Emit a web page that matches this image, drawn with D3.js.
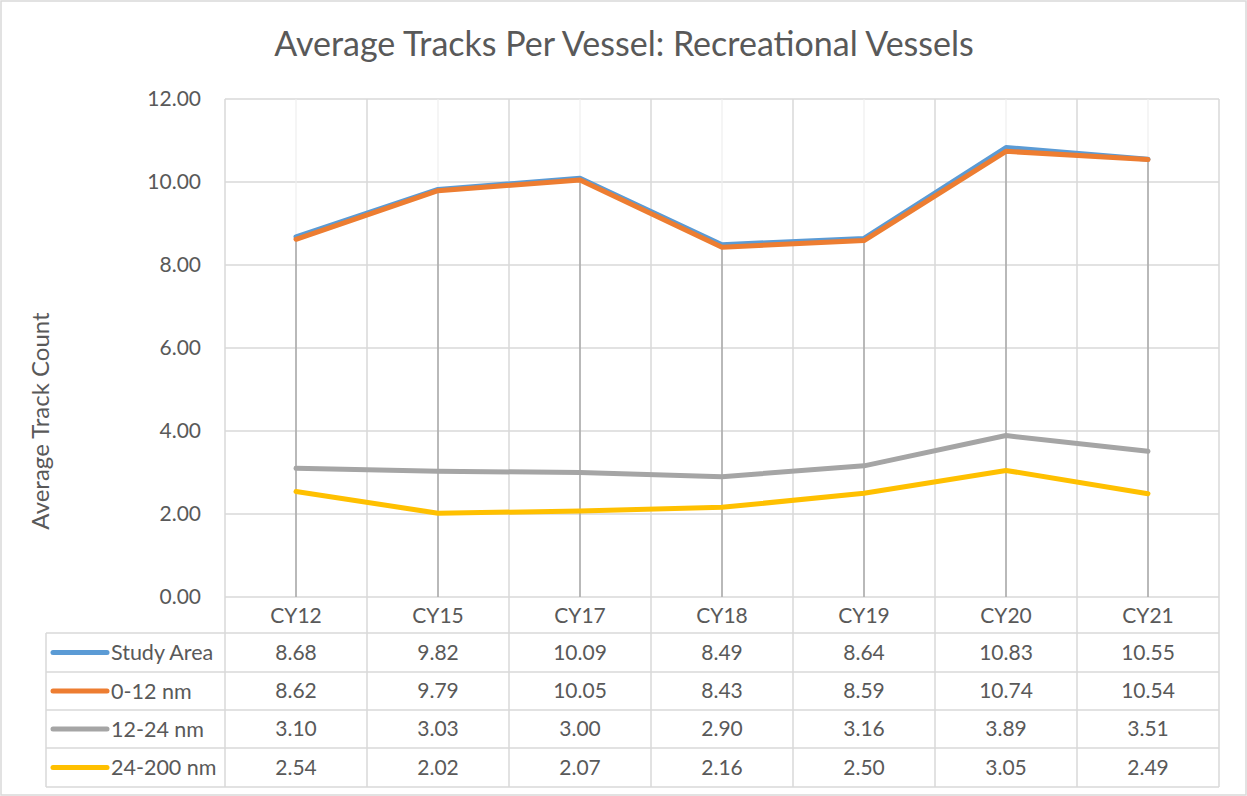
<!DOCTYPE html>
<html><head><meta charset="utf-8">
<script src="https://cdn.jsdelivr.net/npm/d3@7"></script>
<style>body{margin:0;background:#fff}svg{display:block}text{font-family:Lato,"Open Sans",sans-serif;fill:#595959}</style>
</head><body>
<script>
const categories = ["CY12","CY15","CY17","CY18","CY19","CY20","CY21"];
const seriesNames = ["Study Area","0-12 nm","12-24 nm","24-200 nm"];
const studyArea = [8.68,9.82,10.09,8.49,8.64,10.83,10.55];
const nm0_12 = [8.62,9.79,10.05,8.43,8.59,10.74,10.54];
const nm12_24 = [3.10,3.03,3.00,2.90,3.16,3.89,3.51];
const nm24_200 = [2.54,2.02,2.07,2.16,2.50,3.05,2.49];
const yTicks = [0,2,4,6,8,10,12];
const colors = ["#5b9bd5","#ed7d31","#a5a5a5","#ffc000"];
const allSeries = [studyArea,nm0_12,nm12_24,nm24_200];

const W=1247,H=796;
const svg=d3.select("body").append("svg").attr("width",W).attr("height",H);
svg.append("rect").attr("x",1).attr("y",1).attr("width",W-2).attr("height",H-2).attr("fill","#fff").attr("stroke","#d9d9d9").attr("stroke-width",1.5);

const L=225,R=1219,T=99,B=597;
const x=d3.scaleBand().domain(categories).range([L,R]);
const y=d3.scaleLinear().domain([0,12]).range([B,T]);
const grid="#d9d9d9";

svg.append("g").selectAll("line").data(yTicks).join("line")
 .attr("x1",L).attr("x2",R).attr("y1",d=>y(d)).attr("y2",d=>y(d))
 .attr("stroke",grid).attr("stroke-width",1.5);
const bounds=categories.map(c=>x(c)).concat([x(categories[categories.length-1])+x.bandwidth()]);
svg.append("g").selectAll("line").data(bounds).join("line")
 .attr("x1",d=>d).attr("x2",d=>d).attr("y1",T).attr("y2",787)
 .attr("stroke",grid).attr("stroke-width",1.5);
svg.append("g").selectAll("line").data(categories).join("line")
 .attr("x1",d=>x(d)+x.bandwidth()/2).attr("x2",d=>x(d)+x.bandwidth()/2).attr("y1",T).attr("y2",B)
 .attr("stroke","#efefef").attr("stroke-width",1.2);
svg.append("g").selectAll("line").data(categories).join("line")
 .attr("x1",d=>x(d)+x.bandwidth()/2).attr("x2",d=>x(d)+x.bandwidth()/2)
 .attr("y1",(d,i)=>y(d3.max(allSeries,s=>s[i]))).attr("y2",B)
 .attr("stroke","#a5a5a5").attr("stroke-width",1.5);

svg.append("g").selectAll("text").data(yTicks).join("text")
 .attr("x",201).attr("y",d=>y(d)).attr("dy","0.35em").attr("text-anchor","end")
 .attr("font-size",21).text(d=>d3.format(".2f")(d));

svg.append("text").attr("transform","translate(41,421) rotate(-90)").attr("text-anchor","middle")
 .attr("dy","0.35em").attr("font-size",24).text("Average Track Count");

svg.append("text").attr("x",624).attr("y",44).attr("dy","0.35em").attr("text-anchor","middle")
 .attr("font-size",34).text("Average Tracks Per Vessel: Recreational Vessels");

const line=d3.line().x((d,i)=>x(categories[i])+x.bandwidth()/2).y(d=>y(d));
svg.append("g").selectAll("path").data(allSeries).join("path")
 .attr("d",line).attr("fill","none").attr("stroke",(d,i)=>colors[i])
 .attr("stroke-width",5).attr("stroke-linecap","round").attr("stroke-linejoin","round");

const rowY=[597,633,672,710,748,787];
const TL=46;
svg.append("g").selectAll("text").data(categories).join("text")
 .attr("x",d=>x(d)+x.bandwidth()/2).attr("y",(rowY[0]+rowY[1])/2+1).attr("dy","0.35em")
 .attr("text-anchor","middle").attr("font-size",21).text(d=>d);
svg.append("g").selectAll("line").data(rowY.slice(1)).join("line")
 .attr("x1",TL).attr("x2",R).attr("y1",d=>d).attr("y2",d=>d).attr("stroke",grid).attr("stroke-width",1.5);
svg.append("line").attr("x1",TL).attr("x2",TL).attr("y1",rowY[1]).attr("y2",rowY[5]).attr("stroke",grid).attr("stroke-width",1.5);
const rows=svg.append("g").selectAll("g").data(allSeries).join("g");
rows.append("line").attr("x1",53).attr("x2",107).attr("y1",(d,i)=>(rowY[i+1]+rowY[i+2])/2).attr("y2",(d,i)=>(rowY[i+1]+rowY[i+2])/2)
 .attr("stroke",(d,i)=>colors[i]).attr("stroke-width",5).attr("stroke-linecap","round");
rows.append("text").attr("x",111).attr("y",(d,i)=>(rowY[i+1]+rowY[i+2])/2).attr("dy","0.35em")
 .attr("font-size",21.5).text((d,i)=>seriesNames[i]);
rows.each(function(s,i){
  d3.select(this).selectAll("text.v").data(s).join("text").attr("class","v")
   .attr("x",(d,j)=>x(categories[j])+x.bandwidth()/2).attr("y",(rowY[i+1]+rowY[i+2])/2).attr("dy","0.35em")
   .attr("text-anchor","middle").attr("font-size",21).text(d=>d3.format(".2f")(d));
});
</script>
</body></html>
